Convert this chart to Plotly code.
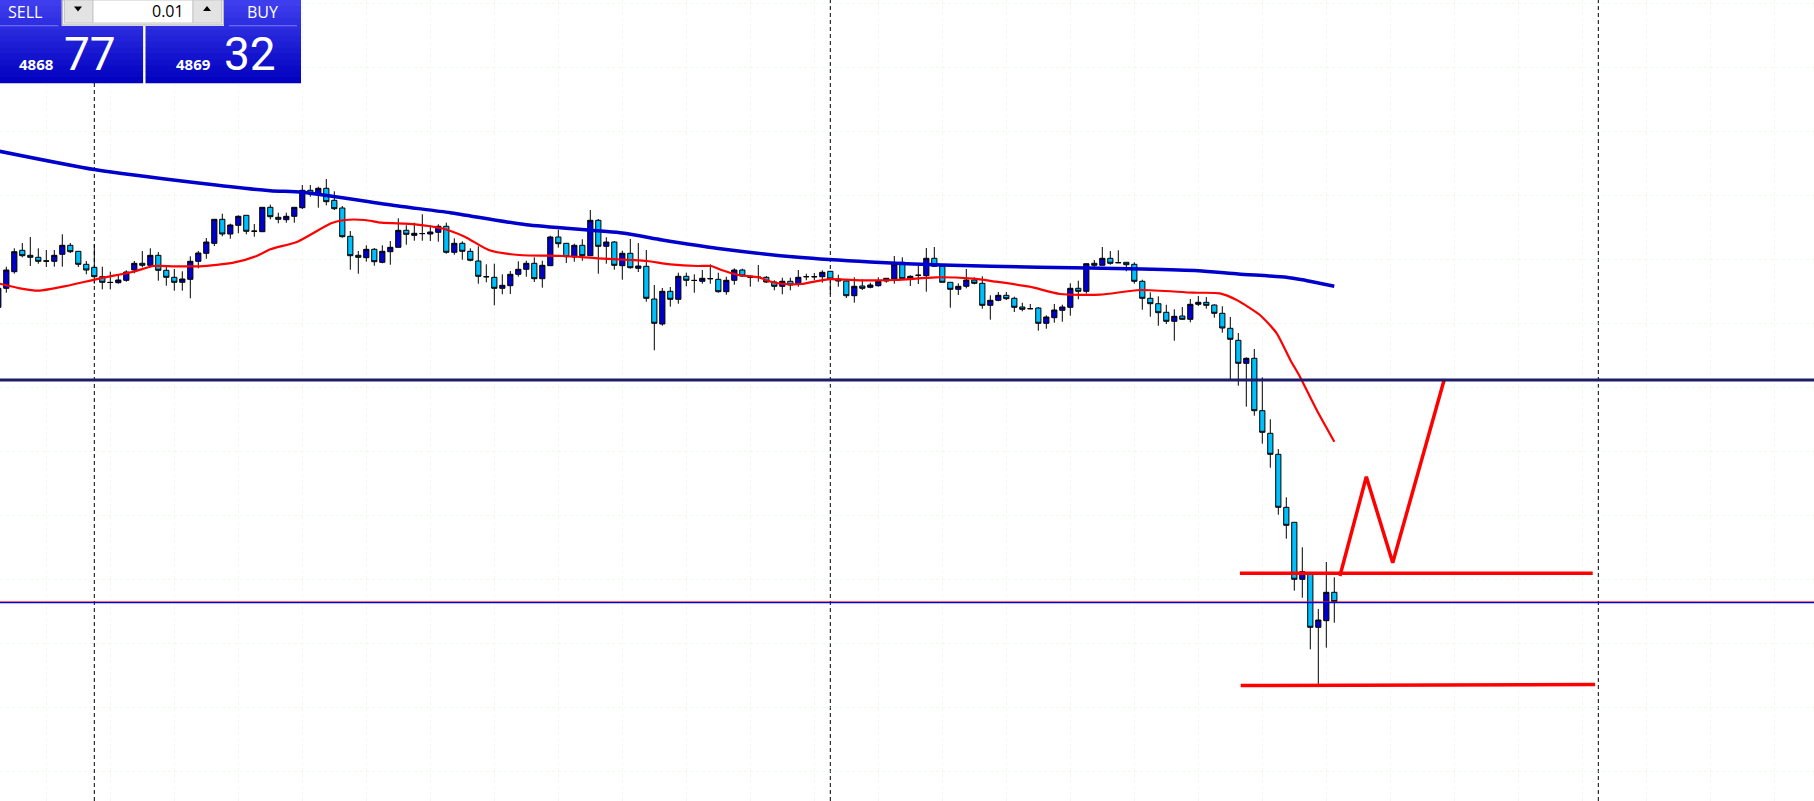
import plotly.graph_objects as go

W, H = 1814, 801

# ---------------- data (XAUUSD M15, prices) ----------------
bar_index = list(range(-1, 167))

open_ = [5015.95, 5025.45, 5033.75, 5044.45, 5041.95, 5040.95, 5039.2, 5038.95, 5042.45, 5046.95,
         5043.95, 5037.45, 5035.95, 5031.25, 5028.45, 5028.25, 5029.45, 5034.6, 5037.95, 5036.95,
         5041.95, 5034.45, 5030.95, 5028.45, 5029.95, 5038.95, 5042.95, 5047.95, 5059.95, 5052.6,
         5056.95, 5061.95, 5053.95, 5053.75, 5065.95, 5060.95, 5059.75, 5061.45, 5065.75, 5074.45,
         5072.6, 5075.45, 5069.45, 5065.6, 5051.45, 5041.95, 5040.75, 5044.95, 5038.45, 5043.75,
         5045.95, 5054.45, 5051.95, 5052.75, 5052.6, 5053.45, 5056.45, 5043.45, 5047.95, 5043.95,
         5039.1, 5031.3, 5030.95, 5025.45, 5026.75, 5032.45, 5034.95, 5037.95, 5030.25, 5036.75,
         5051.1, 5047.95, 5041.1, 5046.95, 5041.75, 5059.45, 5046.45, 5048.6, 5036.75, 5042.95,
         5035.45, 5036.45, 5020.1, 5007.6, 5023.95, 5019.95, 5031.45, 5029.45, 5028.95, 5030.2,
         5029.95, 5023.75, 5029.45, 5034.6, 5031.1, 5030.9, 5030.95, 5028.6, 5026.45, 5028.95,
         5027.75, 5031.2, 5031.3, 5031.25, 5033.95, 5030.1, 5029.1, 5021.75, 5026.6, 5025.95,
         5026.75, 5029.1, 5030.1, 5038.45, 5030.1, 5031.9, 5031.75, 5040.45, 5036.45, 5028.45,
         5024.95, 5026.45, 5029.6, 5027.95, 5016.95, 5019.45, 5021.95, 5020.45, 5016.1, 5015.2,
         5015.6, 5007.95, 5010.75, 5014.45, 5015.95, 5025.45, 5023.95, 5037.95, 5036.95, 5040.45,
         5038.2, 5038.45, 5037.45, 5028.95, 5020.45, 5017.75, 5013.45, 5008.95, 5011.6, 5009.95,
         5017.45, 5018.45, 5017.1, 5012.95, 5005.45, 4999.45, 4987.95, 4990.45, 4964.25, 4952.95,
         4942.45, 4915.95, 4908.45, 4879.95, 4882.6, 4855.95, 4859.25, 4873.45]

high = [5026.6, 5036.25, 5045.45, 5048.1, 5051.1, 5045.45, 5044.6, 5044.6, 5052.45, 5048.1,
        5043.95, 5039.1, 5047.6, 5036.25, 5033.75, 5032.6, 5034.45, 5039.1, 5044.1, 5045.45,
        5043.6, 5036.25, 5035.1, 5033.95, 5041.45, 5044.1, 5050.6, 5059.95, 5062.75, 5057.75,
        5061.95, 5061.95, 5057.6, 5065.95, 5067.25, 5063.25, 5063.25, 5065.95, 5077.1, 5077.1,
        5076.25, 5080.1, 5073.95, 5066.6, 5054.1, 5044.1, 5046.95, 5045.6, 5046.95, 5049.1,
        5060.45, 5056.95, 5058.25, 5062.45, 5056.95, 5057.45, 5058.25, 5050.45, 5048.95, 5045.45,
        5046.45, 5037.45, 5037.75, 5032.45, 5034.1, 5038.95, 5039.25, 5040.95, 5039.25, 5051.75,
        5054.75, 5047.95, 5047.75, 5049.95, 5064.6, 5060.1, 5050.95, 5049.1, 5044.25, 5050.1,
        5048.1, 5044.6, 5027.1, 5025.6, 5026.1, 5033.25, 5033.25, 5032.45, 5034.6, 5037.45,
        5033.25, 5031.25, 5035.45, 5035.25, 5031.95, 5037.1, 5031.6, 5029.45, 5030.75, 5030.75,
        5034.6, 5032.75, 5033.1, 5034.45, 5033.95, 5032.25, 5029.75, 5030.95, 5029.95, 5028.25,
        5030.95, 5030.45, 5041.6, 5040.95, 5031.95, 5036.75, 5045.6, 5046.1, 5037.1, 5028.45,
        5027.95, 5035.1, 5030.95, 5031.45, 5021.95, 5023.6, 5023.6, 5021.25, 5018.25, 5017.6,
        5016.1, 5011.95, 5017.6, 5017.25, 5027.95, 5029.25, 5037.75, 5039.6, 5046.1, 5044.1,
        5044.45, 5038.45, 5038.45, 5029.75, 5023.45, 5021.45, 5017.25, 5014.95, 5016.1, 5020.1,
        5021.6, 5021.1, 5017.45, 5016.45, 5011.1, 5003.1, 4990.95, 4995.1, 4980.95, 4959.95,
        4945.1, 4920.95, 4908.45, 4895.95, 4882.6, 4865.1, 4888.6, 4880.95]

low = [5015.1, 5023.25, 5032.75, 5040.95, 5036.6, 5037.75, 5036.1, 5036.25, 5036.25, 5043.1,
       5036.1, 5032.45, 5027.75, 5024.95, 5024.95, 5027.75, 5028.75, 5032.95, 5035.95, 5035.95,
       5029.25, 5026.75, 5024.25, 5024.25, 5020.45, 5035.45, 5040.25, 5046.6, 5051.45, 5050.25,
       5052.95, 5052.45, 5051.25, 5053.75, 5059.95, 5057.95, 5058.25, 5058.25, 5065.1, 5071.25,
       5065.75, 5066.95, 5064.6, 5050.75, 5034.75, 5032.75, 5038.75, 5036.75, 5037.95, 5037.25,
       5045.95, 5047.25, 5049.25, 5049.25, 5049.1, 5048.75, 5042.75, 5042.25, 5039.75, 5038.95,
       5027.75, 5028.45, 5016.95, 5022.45, 5022.6, 5031.25, 5031.25, 5028.6, 5025.75, 5036.75,
       5045.75, 5038.1, 5038.75, 5039.25, 5041.75, 5032.75, 5037.75, 5034.75, 5029.75, 5035.25,
       5033.6, 5018.75, 4994.45, 5006.75, 5016.25, 5017.75, 5026.45, 5023.25, 5027.75, 5027.75,
       5023.25, 5022.25, 5027.25, 5031.1, 5026.25, 5028.75, 5028.1, 5024.45, 5022.45, 5024.45,
       5026.25, 5029.45, 5029.45, 5028.25, 5022.6, 5026.25, 5020.6, 5018.25, 5024.6, 5025.45,
       5026.25, 5028.25, 5027.75, 5029.95, 5026.6, 5027.6, 5023.75, 5036.25, 5028.45, 5015.75,
       5022.1, 5025.45, 5027.45, 5015.25, 5009.75, 5018.95, 5019.6, 5013.6, 5013.95, 5014.95,
       5004.25, 5005.25, 5008.25, 5008.75, 5011.75, 5019.95, 5022.75, 5035.95, 5036.95, 5037.25,
       5038.1, 5033.95, 5027.75, 5014.75, 5011.25, 5006.75, 5007.6, 4999.25, 5009.75, 5008.45,
       5016.6, 5015.25, 5010.75, 5003.25, 4979.95, 4976.75, 4966.25, 4961.75, 4947.75, 4935.75,
       4912.25, 4900.25, 4874.25, 4870.75, 4844.95, 4827.1, 4845.75, 4858.25]

close = [5025.45, 5034.6, 5043.75, 5041.75, 5040.95, 5038.95, 5039.0, 5041.95, 5046.95, 5043.75,
         5037.45, 5034.6, 5031.25, 5028.45, 5028.35, 5029.6, 5033.6, 5037.95, 5036.95, 5041.95,
         5034.45, 5030.95, 5028.45, 5030.1, 5038.95, 5043.1, 5048.6, 5059.95, 5052.6, 5057.1,
         5061.45, 5053.95, 5054.05, 5065.95, 5061.25, 5059.95, 5061.45, 5065.95, 5074.45, 5072.95,
         5075.45, 5068.75, 5065.25, 5051.25, 5041.75, 5040.95, 5044.95, 5038.75, 5043.95, 5045.95,
         5054.45, 5052.45, 5052.95, 5052.85, 5053.6, 5056.45, 5043.45, 5047.95, 5043.95, 5039.45,
         5031.45, 5031.2, 5025.45, 5026.95, 5032.45, 5034.95, 5037.95, 5030.25, 5036.95, 5051.1,
         5047.75, 5041.25, 5046.95, 5041.75, 5059.45, 5046.45, 5048.6, 5036.95, 5042.95, 5035.75,
         5036.6, 5020.45, 5007.95, 5023.95, 5019.95, 5031.45, 5029.45, 5029.35, 5030.45, 5030.3,
         5023.75, 5029.45, 5034.6, 5031.6, 5031.0, 5031.0, 5028.6, 5026.45, 5028.95, 5027.1,
         5030.95, 5031.3, 5031.2, 5033.45, 5030.1, 5029.1, 5021.75, 5026.45, 5025.45, 5027.1,
         5028.95, 5030.45, 5037.45, 5030.25, 5031.45, 5032.0, 5040.45, 5036.45, 5028.45, 5024.95,
         5026.45, 5029.6, 5027.95, 5016.95, 5019.45, 5021.95, 5020.25, 5015.95, 5014.95, 5015.3,
         5007.95, 5011.1, 5014.6, 5016.1, 5025.45, 5023.95, 5037.75, 5036.95, 5040.45, 5037.95,
         5038.3, 5037.25, 5028.95, 5020.45, 5017.75, 5013.25, 5008.95, 5011.45, 5009.95, 5017.45,
         5018.45, 5016.95, 5012.95, 5005.6, 4999.95, 4987.95, 4990.45, 4964.25, 4953.45, 4942.45,
         4915.95, 4906.95, 4879.95, 4883.75, 4855.95, 4859.6, 4873.45, 4868.77]

# slow moving average (blue), sampled at bar positions
ma_slow_idx = [-1, 11, 24, 33, 37, 49, 55.5, 65, 77, 82, 89, 99, 108, 117, 129, 142, 149, 154, 160, 162, 164, 166]
ma_slow = [5094.1, 5084.85, 5078.1, 5074.25, 5073.5, 5066.6, 5063.25, 5057.2, 5053.1, 5049.6, 5045.35,
           5040.95, 5038.6, 5037.1, 5035.95, 5035.1, 5034.25, 5032.6, 5030.95, 5029.7, 5028.1, 5026.45]

# fast moving average (red)
ma_fast_idx = [-0.8, 1.7, 4, 7.5, 11.7, 15.9, 18.4, 21, 24.2, 28.4, 31.3, 33, 36.4, 40.6, 42.3, 44.8,
               46.9, 51.1, 54.4, 57.3, 60.3, 64.1, 69.7, 73.9, 78, 80.1, 83, 86.4, 88.1, 89.4, 91.5,
               94, 95.6, 97.3, 99.4, 102.7, 107, 111.2, 116.2, 120.8, 123.7, 127.9, 131.7, 136.7,
               141.7, 148.3, 151.7, 153.8, 156.7, 158.8, 160.5, 161.7, 163.8, 166]
ma_fast = [5027.75, 5025.45, 5024.25, 5026.6, 5030.45, 5033.75, 5036.6, 5036.45, 5036.45, 5038.25,
           5041.6, 5044.95, 5048.75, 5057.95, 5059.6, 5059.6, 5058.25, 5057.45, 5055.45, 5051.25,
           5044.6, 5042.1, 5041.6, 5040.45, 5039.6, 5039.1, 5037.45, 5036.6, 5036.6, 5034.6, 5032.1,
           5030.95, 5028.75, 5027.6, 5027.6, 5029.95, 5029.45, 5029.6, 5030.95, 5030.25, 5028.75,
           5026.25, 5022.6, 5022.25, 5024.6, 5023.25, 5022.95, 5019.6, 5012.1, 5002.95, 4989.6,
           4981.25, 4964.6, 4948.75]

bid_price = 4868.77
ask_price = 4869.32
level_price = 4979.6
day_separators = [11, 103, 199]

# hand-drawn objects
upper_line_idx = [154.2, 198.3]
upper_line_val = [4882.95, 4882.95]
lower_line_idx = [154.3, 198.6]
lower_line_val = [4826.85, 4827.35]
zigzag_idx = [166.7, 170.0, 173.3, 179.75]
zigzag_val = [4881.6, 4931.25, 4888.25, 4979.95]

sell_big, sell_small = "77", "4868"
buy_big, buy_small = "32", "4869"
lot_text = "0.01"

# ---------------- figure ----------------
X_RANGE = [-0.7875, 225.96]
Y_RANGE = [4769.1, 5169.6]

fig = go.Figure()

fig.add_trace(go.Candlestick(
    x=bar_index, open=open_, high=high, low=low, close=close,
    increasing=dict(line=dict(color='black', width=1), fillcolor='#0000CD'),
    decreasing=dict(line=dict(color='black', width=1), fillcolor='#00BFFF'),
    whiskerwidth=0, hoverinfo='skip', showlegend=False))

fig.add_trace(go.Scatter(x=ma_slow_idx, y=ma_slow, mode='lines',
                         line=dict(color='#0000CD', width=3.5, shape='spline', smoothing=0.6),
                         hoverinfo='skip', showlegend=False))
fig.add_trace(go.Scatter(x=ma_fast_idx, y=ma_fast, mode='lines',
                         line=dict(color='#FF0000', width=2.2, shape='spline', smoothing=0.6),
                         hoverinfo='skip', showlegend=False))

for xs, ys, w in [(upper_line_idx, upper_line_val, 3.5), (lower_line_idx, lower_line_val, 3.5),
                  (zigzag_idx, zigzag_val, 3.5)]:
    fig.add_trace(go.Scatter(x=xs, y=ys, mode='lines', line=dict(color='#FF0000', width=w),
                             hoverinfo='skip', showlegend=False))

shapes = []
for d in day_separators:
    shapes.append(dict(type='line', xref='x', yref='paper', x0=d, x1=d, y0=0, y1=1,
                       line=dict(color='black', width=1, dash='4px,3px'), layer='below'))
shapes.append(dict(type='line', xref='paper', yref='y', x0=0, x1=1, y0=level_price, y1=level_price,
                   line=dict(color='#1c1c6a', width=3), layer='above'))
# ask (red) and bid (blue) price lines, snapped to whole pixel rows
shapes.append(dict(type='line', xref='paper', yref='y', x0=0, x1=1, y0=bid_price + 0.08, y1=bid_price + 0.08,
                   line=dict(color='rgba(255,0,0,0.75)', width=0.8), layer='above'))
shapes.append(dict(type='line', xref='paper', yref='y', x0=0, x1=1, y0=bid_price - 0.45, y1=bid_price - 0.45,
                   line=dict(color='#0000E0', width=1.2), layer='above'))


def px(x):
    return x / W


def py(y):
    return 1 - y / H


def rect(x0, y0, x1, y1, fill, line_color=None, lw=0):
    shapes.append(dict(type='rect', xref='paper', yref='paper', x0=px(x0), x1=px(x1), y0=py(y1), y1=py(y0),
                       fillcolor=fill, line=dict(color=line_color or fill, width=lw), layer='above'))


# one-click trading panel: gradient blue blocks
top_c = (62, 62, 238)
bot_c = (2, 2, 192)
n_bands = 14
for bx0, bx1 in [(0, 143.3), (145.3, 301)]:
    for i in range(n_bands):
        t = i / (n_bands - 1)
        c = tuple(int(round(top_c[j] + (bot_c[j] - top_c[j]) * t)) for j in range(3))
        y0 = 83.3 * i / n_bands
        y1 = 83.3 * (i + 1) / n_bands + 0.6
        rect(bx0, y0, bx1, min(y1, 83.3), 'rgb(%d,%d,%d)' % c)
# white separators
rect(143.3, 0, 145.3, 83.3, 'white')
rect(0, 25.3, 58.5, 26.3, '#7a7af5')
rect(229, 25.3, 297, 26.3, '#7a7af5')
# lot box
rect(61.7, 0, 224, 26, 'white')
rect(62.3, 0, 223.4, 25, '#f2f2f2', '#b0b0b0', 1)
rect(64.5, 0, 93, 23, '#e3e3e3', '#c8c8c8', 1)
rect(93, 0, 193, 23, 'white', '#c8c8c8', 1)
rect(193, 0, 221.5, 23, '#e3e3e3', '#c8c8c8', 1)


def tri(cx, cy, up):
    if up:
        pts = [(cx - 4, cy + 2.5), (cx + 4, cy + 2.5), (cx, cy - 2.5)]
    else:
        pts = [(cx - 4, cy - 2.5), (cx + 4, cy - 2.5), (cx, cy + 2.5)]
    path = 'M ' + ' L '.join('%f,%f' % (px(a), py(b)) for a, b in pts) + ' Z'
    shapes.append(dict(type='path', xref='paper', yref='paper', path=path, fillcolor='black',
                       line=dict(color='black', width=0), layer='above'))


tri(78, 9, False)
tri(207, 8.5, True)

annotations = []


def label(x, y, text, size, color='white', anchor='left', bold=False, family='Open Sans'):
    annotations.append(dict(xref='paper', yref='paper', x=px(x), y=py(y), text=('<b>%s</b>' % text) if bold else text,
                            showarrow=False, xanchor=anchor, yanchor='middle',
                            font=dict(family=family, size=size, color=color)))


label(6, 12, 'SELL', 16)
label(245, 12, 'BUY', 16)
label(186, 11, lot_text, 16, color='black', anchor='right')
label(17, 64.5, sell_small, 15, bold=True)
label(62, 54, sell_big, 46, family='Roboto')
label(174, 64.5, buy_small, 15, bold=True)
label(222, 54, buy_big, 46, family='Roboto')

grid_col = 'rgba(215,245,215,0.45)'
fig.update_layout(
    width=W, height=H, margin=dict(l=0, r=0, t=0, b=0, pad=0),
    paper_bgcolor='white', plot_bgcolor='white', showlegend=False,
    boxgap=0.35, boxgroupgap=0,
    xaxis=dict(range=X_RANGE, showticklabels=False, ticks='', showgrid=True, gridcolor=grid_col,
               griddash='dot', gridwidth=1, tick0=5.05, dtick=8, zeroline=False, showline=False,
               rangeslider=dict(visible=False), fixedrange=True),
    yaxis=dict(range=Y_RANGE, showticklabels=False, ticks='', showgrid=True, gridcolor=grid_col,
               griddash='dot', gridwidth=1, tick0=5168.1, dtick=32, zeroline=False, showline=False,
               fixedrange=True),
    shapes=shapes, annotations=annotations,
)

fig.write_html("out.html", config={'displayModeBar': False},
               post_script="document.body.style.margin='0';document.body.style.overflow='hidden';")
